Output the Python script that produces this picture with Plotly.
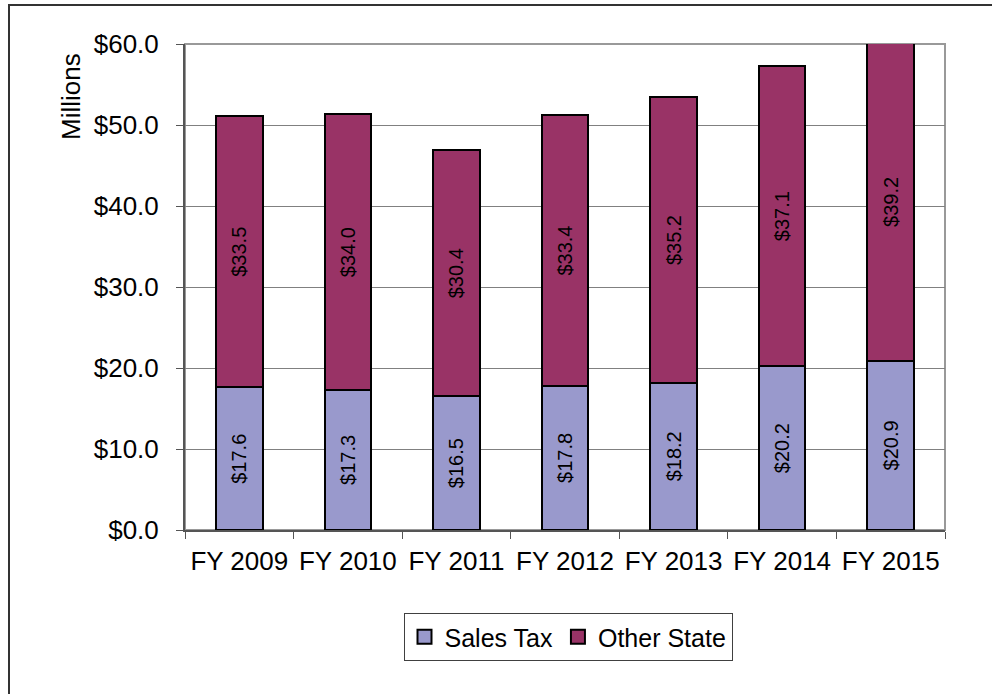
import plotly.graph_objects as go

years = ["FY 2009", "FY 2010", "FY 2011", "FY 2012", "FY 2013", "FY 2014", "FY 2015"]
sales_tax = [17.6, 17.3, 16.5, 17.8, 18.2, 20.2, 20.9]
other_state = [33.5, 34.0, 30.4, 33.4, 35.2, 37.1, 39.2]

series_names = ["Sales Tax", "Other State"]
series_colors = ["#9999CC", "#993366"]

FONT = "Liberation Sans, Arial, sans-serif"
W, H = 992, 694
L, R, T, B = 185, 47, 44, 164
PW, PH = W - L - R, H - T - B


def px_x(x):
    return (x - L) / PW


def px_y(y):
    return (H - B - y) / PH


def bar(name, values, color):
    return go.Bar(
        name=name,
        x=years,
        y=values,
        marker=dict(color=color, line=dict(color="#000000", width=2)),
        text=[f"${v:.1f}" for v in values],
        textposition="inside",
        insidetextanchor="middle",
        textangle=-90,
        textfont=dict(family=FONT, size=20, color="#000000"),
        constraintext="none",
        cliponaxis=True,
        showlegend=False,
    )


def legend_key(name, color):
    # Square legend swatch with a black outline
    return go.Scatter(
        name=name,
        x=[None],
        y=[None],
        mode="markers",
        marker=dict(symbol="square", size=14, color=color,
                    line=dict(color="#000000", width=2)),
        showlegend=True,
    )


fig = go.Figure([
    bar(series_names[0], sales_tax, series_colors[0]),
    bar(series_names[1], other_state, series_colors[1]),
    legend_key(series_names[0], series_colors[0]),
    legend_key(series_names[1], series_colors[1]),
])

fig.update_layout(
    width=W,
    height=H,
    barmode="stack",
    bargap=0.57,
    plot_bgcolor="#FFFFFF",
    paper_bgcolor="#FFFFFF",
    margin=dict(l=L, r=R, t=T, b=B, autoexpand=False),
    font=dict(family=FONT, color="#000000"),
    showlegend=True,
    legend=dict(
        orientation="h",
        x=px_x(568),
        xanchor="center",
        y=px_y(613),
        yanchor="top",
        bordercolor="#404040",
        borderwidth=1,
        bgcolor="#FFFFFF",
        font=dict(family=FONT, size=25, color="#000000"),
        itemwidth=30,
        itemsizing="trace",
        traceorder="normal",
    ),
)

fig.update_yaxes(
    range=[0, 60],
    dtick=10,
    tickprefix="$",
    tickformat=".1f",
    showgrid=True,
    gridcolor="#808080",
    gridwidth=1,
    showline=True,
    linecolor="#555555",
    linewidth=2,
    ticks="outside",
    ticklen=7,
    tickcolor="#555555",
    ticklabelstandoff=12,
    tickfont=dict(family=FONT, size=26, color="#000000"),
    zeroline=False,
)

fig.update_xaxes(
    range=[-0.5, 6.5],
    showgrid=False,
    showline=True,
    linecolor="#555555",
    linewidth=2,
    ticks="outside",
    tickson="boundaries",
    ticklen=7,
    tickcolor="#555555",
    ticklabelstandoff=7,
    tickfont=dict(family=FONT, size=26, color="#000000"),
)

# Grey frame around the plotting area
fig.add_shape(
    type="rect", xref="paper", yref="paper", x0=0, y0=0, x1=1, y1=1,
    line=dict(color="#999999", width=2), layer="below",
)

# Outer chart border
fig.add_shape(
    type="rect", xref="paper", yref="paper",
    x0=px_x(9), y0=px_y(710), x1=px_x(1010), y1=px_y(5),
    line=dict(color="#333333", width=2),
)

fig.add_annotation(
    text="Millions",
    xref="paper", yref="paper",
    x=px_x(71), y=px_y(97),
    xanchor="center", yanchor="middle",
    textangle=-90,
    showarrow=False,
    font=dict(family=FONT, size=26, color="#000000"),
)

fig.write_html("out.html")
